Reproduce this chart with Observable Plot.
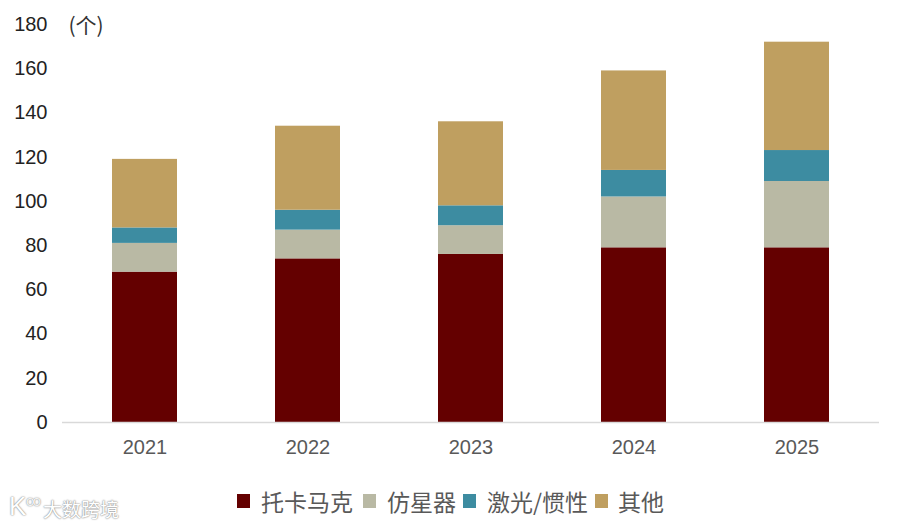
<!DOCTYPE html>
<html><head><meta charset="utf-8">
<script src="https://cdn.jsdelivr.net/npm/d3@7"></script>
<script src="https://cdn.jsdelivr.net/npm/@observablehq/plot@0.6"></script>
<style>
html,body{margin:0;padding:0;background:#fff;width:900px;height:525px;overflow:hidden;position:relative}
svg{display:block}
#legend{position:absolute;left:0;top:484px;height:34px;width:900px;font:23px "Noto Sans CJK SC",sans-serif;color:#595959}
#legend i{position:absolute;top:10px;width:13px;height:14px}
#legend span{position:absolute;top:0;line-height:34px;white-space:nowrap}
#mark{position:absolute;left:43px;top:495px;font:19px "Noto Sans CJK SC",sans-serif;color:#fff;text-shadow:0 0 2px #8a8a8a,0 0 1px #8a8a8a}
#logo{position:absolute;left:9px;top:491px;font:26px "Liberation Sans",sans-serif;color:#fff;text-shadow:0 0 2px #8a8a8a,0 0 1px #8a8a8a}
#logo sup{font-size:10px;vertical-align:9px;letter-spacing:-1px}
</style></head><body>
<div id="chart"></div>
<div id="legend"></div>
<div id="logo">K<sup>OO</sup></div>
<div id="mark">大数跨境</div>
<script>
const years = ["2021","2022","2023","2024","2025"];
const seriesNames = ["托卡马克","仿星器","激光/惯性","其他"];
const tokamak = [68,74,76,79,79];
const stellarator = [13,13,13,23,30];
const laser = [7,9,9,12,14];
const other = [31,38,38,45,49];
const colors = ["#640000","#B9B9A4","#3D8CA1","#BF9F60"];
const yTicks = [0,20,40,60,80,100,120,140,160,180];

const valuesBySeries = [tokamak, stellarator, laser, other];
const rows = seriesNames.flatMap((s,i)=>years.map((y,j)=>({year:y,series:s,value:valuesBySeries[i][j]})));

const plot = Plot.plot({
  width:900, height:475,
  marginLeft:62, marginRight:21, marginTop:24, marginBottom:53,
  style:{fontFamily:"'Liberation Sans',Arial,sans-serif",background:"#fff",overflow:"visible"},
  x:{domain:years,paddingInner:0.6,paddingOuter:0.3,align:0.5,label:null,tickSize:0},
  y:{domain:[0,180],label:null,ticks:yTicks},
  color:{domain:seriesNames,range:colors},
  marks:[
    Plot.barY(rows,{x:"year",y:"value",fill:"series",order:seriesNames}),
    Plot.ruleY([0],{stroke:"#d9d9d9",strokeWidth:1.5}),
    Plot.axisY({ticks:yTicks,tickSize:0,tickPadding:15,fontSize:20,fill:"#222",label:null}),
    Plot.axisX({tickSize:0,tickPadding:17,fontSize:20,fill:"#595959",label:null}),
    Plot.text(["(个)"],{frameAnchor:"top-left",dx:6,dy:-6,textAnchor:"start",fontSize:21,fill:"#333",fontFamily:"'Noto Sans CJK SC',sans-serif"})
  ]
});
document.getElementById("chart").append(plot);

const swatchX = [237,363,463,595], labelX = [261,387,487,618];
const lg = document.getElementById("legend");
seriesNames.forEach((s,i)=>{
  const b=document.createElement("i");b.style.left=swatchX[i]+"px";b.style.background=colors[i];lg.append(b);
  const t=document.createElement("span");t.style.left=labelX[i]+"px";t.textContent=s;lg.append(t);
});
</script>
</body></html>
